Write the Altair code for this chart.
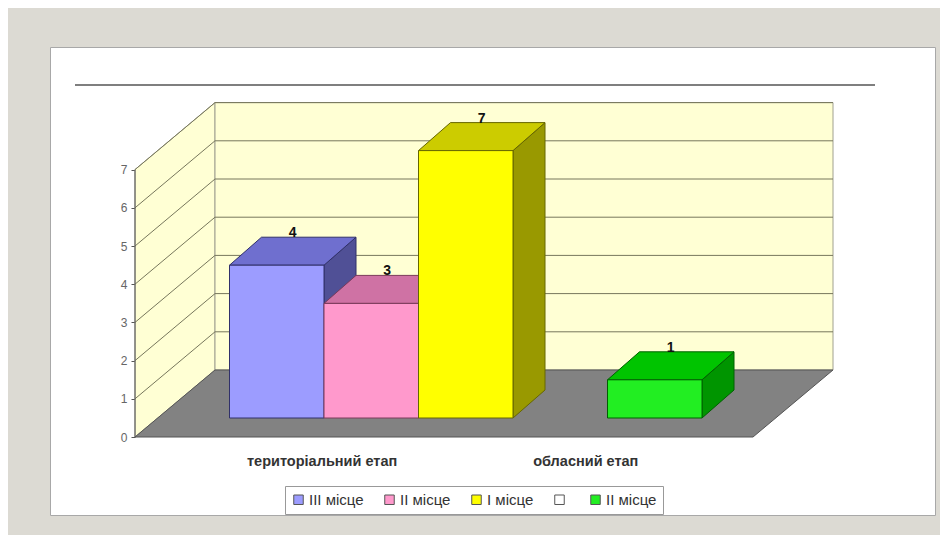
import altair as alt
import pandas as pd

# ---------------- data ----------------
CATEGORIES = ["територіальний етап", "обласний етап"]
SERIES_KEYS = ["s1", "s2", "s3", "s4", "s5"]
SERIES_NAMES = ["III місце", "II місце", "I місце", "", "II місце"]
III_PLACE = [4, None]
II_PLACE = [3, None]
I_PLACE = [7, None]
BLANK = [None, None]
II_PLACE_B = [None, 1]
SERIES_VALUES = [III_PLACE, II_PLACE, I_PLACE, BLANK, II_PLACE_B]
Y_TICKS = [0, 1, 2, 3, 4, 5, 6, 7]
CAT_LABEL_POS = [1.98, 4.77]   # slot units along the floor front

# ---------------- style ----------------
FRONT = ["#9c9cff", "#ff99cc", "#ffff00", "#ffffff", "#22ee22"]
TOP = ["#6f6fcf", "#cf72a4", "#cccc00", "#dddddd", "#00c400"]
SIDE = ["#505096", "#9a4f78", "#999900", "#bbbbbb", "#009500"]
EDGE = ["#30306a", "#7a3a5a", "#666600", "#888888", "#006000"]
WALL = "#ffffd4"
FLOOR = "#828282"
GRID = "#77775c"
FONT = "Liberation Sans"

# ---------------- geometry (pixel layout -> units) ----------------
PLOT_LEFT, PLOT_TOP, PLOT_W, PLOT_H = 50, 47, 885, 468
ORIGIN_X, ORIGIN_Y = 135, 437
PX_X, PX_Y = 94.5, 38.2
X_DOMAIN = [(PLOT_LEFT - ORIGIN_X) / PX_X, (PLOT_LEFT + PLOT_W - ORIGIN_X) / PX_X]
Y_DOMAIN = [(ORIGIN_Y - PLOT_TOP - PLOT_H) / PX_Y, (ORIGIN_Y - PLOT_TOP) / PX_Y]
WALL_DX, WALL_DY = 80 / PX_X, 67 / PX_Y
FLOOR_W = 618 / PX_X
WALL_H = max(Y_TICKS)
BAR_FY = 19 / PX_Y
BAR_DX, BAR_DY = 32 / PX_X, 28 / PX_Y

xs = alt.Scale(domain=X_DOMAIN, nice=False, zero=False, padding=0)
ys = alt.Scale(domain=Y_DOMAIN, nice=False, zero=False, padding=0)
Y_AXIS = alt.Axis(values=Y_TICKS, offset=-(ORIGIN_X - PLOT_LEFT), domain=False, grid=False,
                  tickSize=4, tickColor="#555", labelColor="#666", labelFontSize=12,
                  labelFont=FONT, labelPadding=4, title=None)


def X(f):
    return alt.X(f, type="quantitative", scale=xs, axis=None, stack=None)


def Y(f):
    return alt.Y(f, type="quantitative", scale=ys, axis=Y_AXIS, stack=None)


# ---------------- build bar faces from data ----------------
fronts, tops, sides, labels = [], [], [], []
for si, (key, vals) in enumerate(zip(SERIES_KEYS, SERIES_VALUES)):
    for ci, v in enumerate(vals):
        if v is None:
            continue
        slot = 1 + si
        bid = f"{key}-{ci}"
        fronts.append(dict(key=key, x=slot, x2=slot + 1, y=BAR_FY, y2=BAR_FY + v, edge=EDGE[si]))
        tops.append(dict(bar=bid, y=BAR_FY + v, x=slot, x2=slot + 1, fill=TOP[si], edge=EDGE[si]))
        tops.append(dict(bar=bid, y=BAR_FY + v + BAR_DY, x=slot + BAR_DX, x2=slot + 1 + BAR_DX,
                         fill=TOP[si], edge=EDGE[si]))
        sides.append(dict(bar=bid, x=slot + 1, y=BAR_FY, y2=BAR_FY + v, fill=SIDE[si], edge=EDGE[si]))
        sides.append(dict(bar=bid, x=slot + 1 + BAR_DX, y=BAR_FY + BAR_DY, y2=BAR_FY + BAR_DY + v,
                          fill=SIDE[si], edge=EDGE[si]))
        labels.append(dict(x=slot + 0.5 + BAR_DX / 2, y=BAR_FY + v + BAR_DY, t=str(v)))

front_df = pd.DataFrame(fronts)
top_df = pd.DataFrame(tops)
side_df = pd.DataFrame(sides)
label_df = pd.DataFrame(labels)

# ---------------- walls / floor ----------------
left_wall = alt.Chart(pd.DataFrame({
    "x": [0, WALL_DX], "y": [0, WALL_DY], "y2": [WALL_H, WALL_H + WALL_DY]
})).mark_area(fill=WALL, stroke="#a0a090", strokeWidth=1, orient="vertical").encode(
    x=X("x"), y=Y("y"), y2="y2")

back_wall = alt.Chart(pd.DataFrame({
    "x": [WALL_DX], "x2": [WALL_DX + FLOOR_W], "y": [WALL_DY], "y2": [WALL_H + WALL_DY]
})).mark_rect(fill=WALL, stroke="#a0a090", strokeWidth=1).encode(
    x=X("x"), x2="x2", y=Y("y"), y2="y2")

floor = alt.Chart(pd.DataFrame({
    "y": [0, WALL_DY], "x": [0, WALL_DX], "x2": [FLOOR_W, FLOOR_W + WALL_DX]
})).mark_area(fill=FLOOR, stroke="#555555", strokeWidth=1, orient="horizontal").encode(
    y=Y("y"), x=X("x"), x2="x2")

grid_k = [k for k in Y_TICKS if k > 0]
back_grid = alt.Chart(pd.DataFrame({
    "y": [WALL_DY + k for k in grid_k], "x": [WALL_DX] * len(grid_k),
    "x2": [WALL_DX + FLOOR_W] * len(grid_k)
})).mark_rule(color=GRID, strokeWidth=1).encode(x=X("x"), x2="x2", y=Y("y"))

side_grid = alt.Chart(pd.DataFrame({
    "x": [0] * len(grid_k), "y": grid_k, "x2": [WALL_DX] * len(grid_k),
    "y2": [WALL_DY + k for k in grid_k]
})).mark_rule(color=GRID, strokeWidth=1).encode(x=X("x"), y=Y("y"), x2="x2", y2="y2")

y_axis_line = alt.Chart(pd.DataFrame({"x": [0], "y": [0], "y2": [WALL_H]})).mark_rule(
    color="#555", strokeWidth=1).encode(x=X("x"), y=Y("y"), y2="y2")

top_line = alt.Chart(pd.DataFrame({
    "x": [(75 - ORIGIN_X) / PX_X], "x2": [(875 - ORIGIN_X) / PX_X], "y": [(ORIGIN_Y - 85) / PX_Y]
})).mark_rule(color="#555", strokeWidth=1.3).encode(x=X("x"), x2="x2", y=Y("y"))

# ---------------- bars ----------------
label_expr = " : ".join(
    f"datum.value == '{k}' ? '{n}'" for k, n in zip(SERIES_KEYS, SERIES_NAMES)) + " : ''"

side_layer = alt.Chart(side_df).mark_area(orient="vertical", strokeWidth=1).encode(
    x=X("x"), y=Y("y"), y2="y2", detail="bar:N",
    fill=alt.Fill("fill:N", scale=None), stroke=alt.Stroke("edge:N", scale=None))

top_layer = alt.Chart(top_df).mark_area(orient="horizontal", strokeWidth=1).encode(
    y=Y("y"), x=X("x"), x2="x2", detail="bar:N",
    fill=alt.Fill("fill:N", scale=None), stroke=alt.Stroke("edge:N", scale=None))

front_layer = alt.Chart(front_df).mark_rect(strokeWidth=1).encode(
    x=X("x"), x2="x2", y=Y("y"), y2="y2",
    color=alt.Color("key:N", scale=alt.Scale(domain=SERIES_KEYS, range=FRONT),
                    legend=alt.Legend(orient="none", legendX=235, legendY=439,
                                      direction="horizontal", title=None,
                                      symbolType="square", symbolSize=90,
                                      symbolStrokeColor="#555", symbolStrokeWidth=1,
                                      labelFont=FONT, labelFontSize=15, labelColor="#333",
                                      labelOffset=3, columnPadding=18, padding=6,
                                      strokeColor="#999", fillColor="white",
                                      labelExpr=label_expr)),
    stroke=alt.Stroke("edge:N", scale=None))

value_labels = alt.Chart(label_df).mark_text(
    font=FONT, fontSize=14, fontWeight="bold", color="#111", baseline="bottom", dy=3
).encode(x=X("x"), y=Y("y"), text="t:N")

cat_labels = alt.Chart(pd.DataFrame({
    "x": CAT_LABEL_POS, "y": [-25 / PX_Y] * len(CATEGORIES), "t": CATEGORIES
})).mark_text(font=FONT, fontSize=14.5, fontWeight="bold", color="#333", baseline="middle").encode(
    x=X("x"), y=Y("y"), text="t:N")

chart = alt.layer(
    left_wall, back_wall, back_grid, side_grid, floor, y_axis_line, top_line,
    side_layer, top_layer, front_layer, value_labels, cat_labels
).properties(
    width=PLOT_W, height=PLOT_H,
    autosize=alt.AutoSizeParams(type="none"),
    padding={"left": PLOT_LEFT - 8, "top": PLOT_TOP - 8, "right": 5, "bottom": 20},
    background="#dcdad3"
).configure_view(fill="white", stroke="#a8a8a8", strokeWidth=1)

chart.save("out.html", embed_options={"renderer": "svg", "actions": False})
